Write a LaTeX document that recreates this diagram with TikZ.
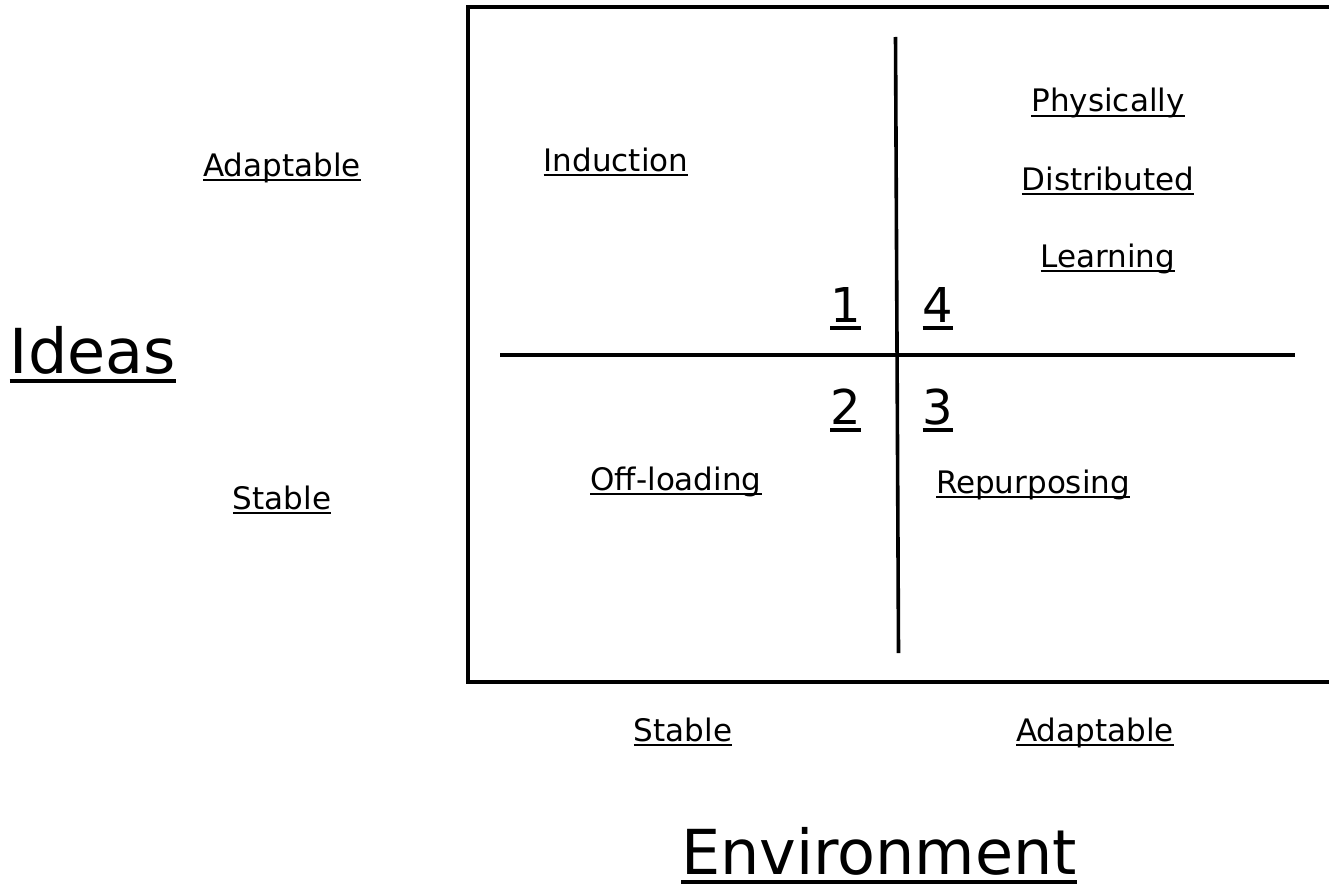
\documentclass[tikz,border=0pt]{standalone}
\usepackage{fontspec}
\setmainfont{DejaVu Sans}
\newcommand\ulin[1]{\setbox0=\hbox{#1}\rlap{\rule[-0.16em]{\wd0}{0.07em}}\box0}
\begin{document}
\begin{tikzpicture}[x=1pt,y=-1pt,
  lbl/.style={inner sep=0pt, anchor=base, font=\fontsize{31}{36}\selectfont},
  big/.style={inner sep=0pt, anchor=base, font=\fontsize{62}{70}\selectfont},
  num/.style={inner sep=0pt, anchor=base, font=\fontsize{48}{54}\selectfont},
  frame/.style={line width=3.6pt},
  divider/.style={line width=3.6pt}]
\useasboundingbox (0,0) rectangle (1329,888);
\clip (0,0) rectangle (1329,888);
% frame (open to the right)
\coordinate (tr) at (1345,7);
\coordinate (tl) at (468,7);
\coordinate (bl) at (468,682);
\coordinate (br) at (1345,682);
\draw[frame] (tr) -- (tl) -- (bl) -- (br);
% quadrant dividers
\coordinate (vt) at (895.5,37);
\coordinate (vb) at (898.5,653);
\coordinate (hl) at (500,355);
\coordinate (hr) at (1295,355);
\draw[divider] (vt) -- (vb);
\draw[divider] (hl) -- (hr);
% axis labels
\node[lbl] (adaptL) at (282,176) {\ulin{Adaptable}};
\node[lbl] (stableL) at (282,509) {\ulin{Stable}};
\node[big, anchor=base east] (ideas) at (176,373) {\ulin{Ideas}};
\node[lbl] (stableB) at (683,741) {\ulin{Stable}};
\node[lbl] (adaptB) at (1095,741) {\ulin{Adaptable}};
\node[big] (env) at (879,874) {\ulin{Environment}};
% quadrant texts
\node[lbl] (induction) at (616,171) {\ulin{Induction}};
\node[lbl] (phys) at (1108,112) {\ulin{Physically}};
\node[lbl] (dist) at (1108,190) {\ulin{Distributed}};
\node[lbl] (learn) at (1108,267) {\ulin{Learning}};
\node[lbl] (offload) at (676,490) {\ulin{Off-loading}};
\node[lbl] (repurp) at (1033,493) {\ulin{Repurposing}};
% quadrant numbers
\node[num] (q1) at (845.5,322) {\ulin{1}};
\node[num] (q4) at (938,322) {\ulin{4}};
\node[num] (q2) at (845.5,424) {\ulin{2}};
\node[num] (q3) at (938,424) {\ulin{3}};
\end{tikzpicture}
\end{document}
